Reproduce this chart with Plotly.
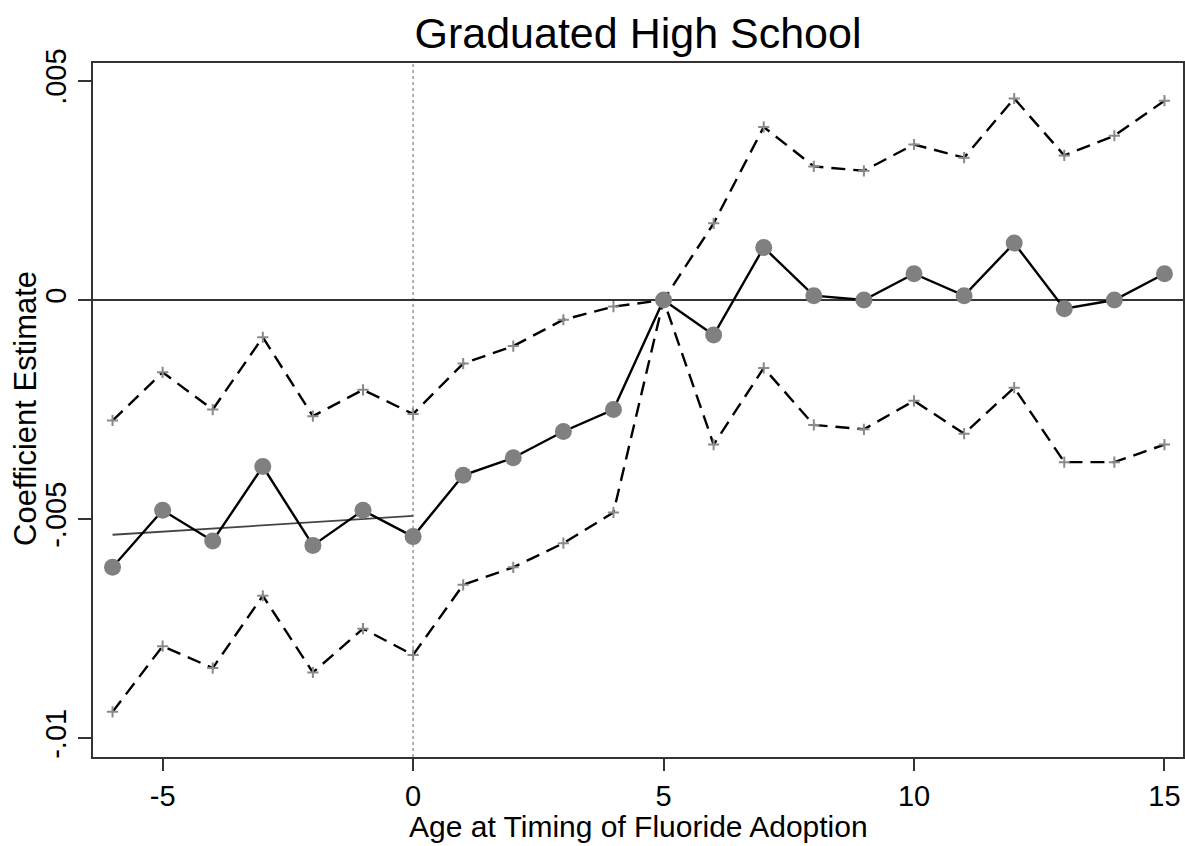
import numpy as np
import plotly.graph_objects as go

# Data (coefficient estimates, in levels)
ages = [-6, -5, -4, -3, -2, -1, 0, 1, 2, 3, 4, 5, 6, 7, 8, 9, 10, 11, 12, 13, 14, 15]
coef = [-0.0061, -0.0048, -0.0055, -0.0038, -0.0056, -0.0048, -0.0054, -0.0040, -0.0036,
        -0.0030, -0.0025, 0.0, -0.0008, 0.0012, 0.0001, 0.0000, 0.0006, 0.0001, 0.0013,
        -0.0002, 0.0000, 0.0006]
upper = [-0.00275, -0.00165, -0.0025, -0.00085, -0.00265, -0.00205, -0.0026, -0.00145, -0.00105,
         -0.00045, -0.00015, 0.0, 0.00175, 0.00395, 0.00305, 0.00295, 0.00355, 0.00325, 0.0046,
         0.0033, 0.00375, 0.00455]
lower = [-0.0094, -0.0079, -0.0084, -0.00675, -0.0085, -0.0075, -0.0081, -0.0065, -0.0061,
         -0.00555, -0.00485, 0.0, -0.0033, -0.00155, -0.00285, -0.00295, -0.0023, -0.00305, -0.0020,
         -0.0037, -0.0037, -0.0033]

# Pre-period linear trend (ages -6..0), fitted from the estimates
pre_x = [a for a in ages if a <= 0]
pre_y = [c for a, c in zip(ages, coef) if a <= 0]
slope, intercept = np.polyfit(pre_x, pre_y, 1)
trend_x = [min(pre_x), max(pre_x)]
trend_y = [slope * v + intercept for v in trend_x]

ytick_vals = [0.005, 0.0, -0.005, -0.01]
ytick_text = [".005", "0", "-.005", "-.01"]
xtick_vals = [-5, 0, 5, 10, 15]
xtick_text = ["-5", "0", "5", "10", "15"]

FONT = "Liberation Sans, Arial, sans-serif"

W, H = 1185, 846
PL, PR, PT, PB = 93, 2, 63, 89  # plot area margins
plot_h = H - PT - PB
plot_w = W - PL - PR

fig = go.Figure()

for ci in (upper, lower):
    fig.add_trace(go.Scatter(
        x=ages, y=ci, mode="lines+markers",
        line=dict(color="black", width=2.4, dash="14px,8px"),
        marker=dict(symbol="cross-thin", size=8, color="#8a8a8a",
                    line=dict(color="#8a8a8a", width=2)),
        showlegend=False, hoverinfo="skip"))

fig.add_trace(go.Scatter(
    x=trend_x, y=trend_y, mode="lines",
    line=dict(color="#444444", width=1.8),
    showlegend=False, hoverinfo="skip"))

fig.add_trace(go.Scatter(
    x=ages, y=coef, mode="lines+markers",
    line=dict(color="black", width=2.4),
    marker=dict(symbol="circle", size=17, color="#808080", line=dict(width=0)),
    showlegend=False))

# Reference lines
fig.add_shape(type="line", xref="x", yref="paper", x0=0, x1=0, y0=0, y1=1,
              line=dict(color="#9a9a9a", width=1.5, dash="dot"), layer="below")
fig.add_shape(type="line", xref="paper", yref="y", x0=0, x1=1, y0=0, y1=0,
              line=dict(color="#333333", width=2), layer="below")

fig.update_layout(
    width=W, height=H,
    margin=dict(l=PL, r=PR, t=PT, b=PB, autoexpand=False),
    paper_bgcolor="white", plot_bgcolor="white",
    font=dict(family=FONT, color="black"),
    title=dict(text="Graduated High School", x=0.5, xref="paper", xanchor="center",
               y=1 - 33 / H, yref="container", yanchor="middle",
               font=dict(size=43, family=FONT, color="black")),
    xaxis=dict(range=[-6.39, 15.37], tickmode="array", tickvals=xtick_vals,
               ticktext=xtick_text,
               ticks="outside", ticklen=12, tickwidth=2, tickcolor="#333333",
               showline=True, linecolor="#333333", linewidth=2, mirror=True,
               showgrid=False, zeroline=False,
               tickfont=dict(size=29, family=FONT, color="black")),
    yaxis=dict(range=[-0.01043, 0.00541], tickmode="array", tickvals=ytick_vals,
               ticktext=ytick_text, tickangle=-90,
               ticks="outside", ticklen=13, tickwidth=2, tickcolor="#333333",
               showline=True, linecolor="#333333", linewidth=2, mirror=True,
               showgrid=False, zeroline=False,
               tickfont=dict(size=29, family=FONT, color="black")),
    annotations=[
        dict(text="Age at Timing of Fluoride Adoption", xref="paper", yref="paper",
             x=0.5, y=(757 - 845) / plot_h, xanchor="center", yanchor="bottom",
             showarrow=False, font=dict(size=30, family=FONT, color="black")),
        dict(text="Coefficient Estimate", xref="paper", yref="paper",
             x=(25 - 93) / plot_w, y=(757 - 409) / plot_h, xanchor="center", yanchor="middle",
             textangle=-90, showarrow=False, font=dict(size=31, family=FONT, color="black")),
    ],
)

# Remove the default page margin so the figure fills the window exactly
fig.write_html("out.html", config={"displayModeBar": False},
               post_script="document.body.style.margin='0';document.body.style.overflow='hidden';")
